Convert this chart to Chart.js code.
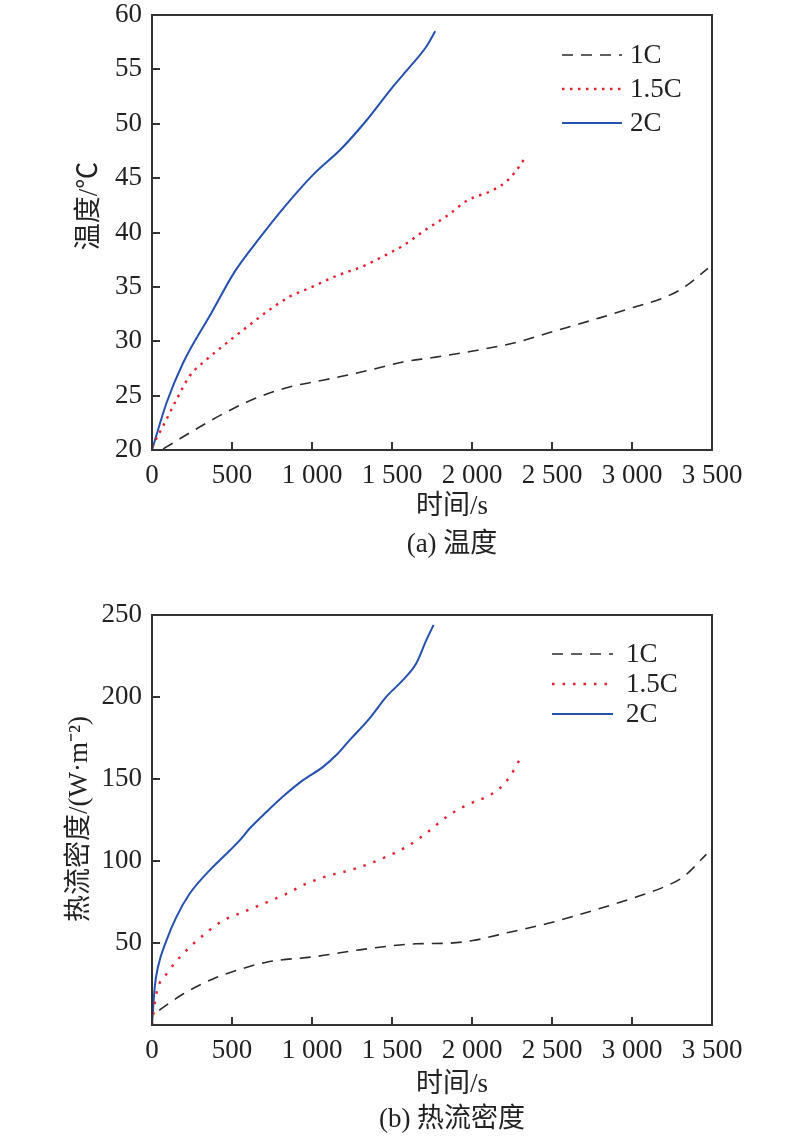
<!DOCTYPE html>
<html>
<head>
<meta charset="utf-8">
<script src="https://cdn.jsdelivr.net/npm/chart.js@4.4.1/dist/chart.umd.min.js"></script>
<style>
  body { margin: 0; background: #fff; }
  .box { position: absolute; left: 0; width: 800px; }
</style>
</head>
<body>
<div class="box" style="top:0;height:580px"><canvas id="tempChart"></canvas></div>
<div class="box" style="top:580px;height:559px"><canvas id="fluxChart"></canvas></div>
<script>
// (a) temperature, time in s
var temp1CTime = [70, 319, 506, 673, 860, 1027, 1194, 1402, 1569, 1756, 2006, 2277, 2485, 2798, 3006, 3215, 3319, 3475];
var temp1C     = [20.1, 22.3, 23.8, 24.9, 25.8, 26.3, 26.8, 27.5, 28.1, 28.5, 29.1, 29.9, 30.8, 32.15, 33.1, 34.1, 34.9, 36.7];
var temp15CTime = [0, 69, 152, 235, 340, 506, 610, 735, 860, 985, 1152, 1319, 1444, 1569, 1715, 1860, 1965, 2131, 2215, 2277, 2329];
var temp15C     = [20.3, 22.2, 24.6, 26.8, 28.3, 30.3, 31.5, 32.9, 34.1, 34.9, 36.0, 36.9, 37.8, 38.8, 40.3, 41.7, 42.9, 43.9, 44.7, 45.7, 46.8];
var temp2CTime = [0, 90, 194, 371, 517, 673, 819, 1006, 1183, 1340, 1505, 1610, 1715, 1770];
var temp2C     = [20.0, 24.3, 28.0, 32.6, 36.4, 39.5, 42.2, 45.3, 47.7, 50.3, 53.4, 55.2, 57.1, 58.5];

// (b) heat flux density
var flux1CTime = [45, 194, 381, 527, 715, 1027, 1340, 1652, 1860, 2006, 2235, 2465, 2798, 3006, 3215, 3319, 3465];
var flux1C     = [9, 18.9, 28.1, 33.2, 38.3, 41.8, 46.4, 49.5, 49.9, 51.5, 56.6, 61.7, 71.0, 77.4, 84.8, 90.2, 104];
var flux15CTime = [0, 27, 100, 194, 319, 444, 569, 694, 840, 965, 1110, 1235, 1360, 1485, 1590, 1715, 1840, 1965, 2090, 2173, 2235, 2308];
var flux15C     = [0, 19, 32.2, 43.4, 54.6, 63.7, 68.8, 73.9, 80.0, 86.2, 91.2, 94.3, 98.4, 103.5, 108.6, 117, 126.9, 134.0, 139.1, 144.2, 151.3, 163.5];
var flux2CTime = [0, 17, 37, 90, 152, 235, 360, 444, 548, 610, 715, 840, 944, 1069, 1152, 1235, 1360, 1465, 1569, 1652, 1715, 1760];
var flux2C     = [0, 23, 35.2, 51.5, 65.8, 80.0, 94.3, 102.4, 112.6, 119.8, 129.9, 141.1, 149.3, 157.4, 164.6, 173.7, 187.0, 200.2, 210.4, 220.6, 234.8, 244];

var seriesNames = ['1C', '1.5C', '2C'];
var timeTicks = [0, 500, 1000, 1500, 2000, 2500, 3000, 3500];

var SERIF = "'Liberation Serif', 'Noto Sans CJK SC', serif";

function pts(xs, ys) {
  return xs.map(function (x, i) { return { x: x, y: ys[i] }; });
}

function sets(times, values, dots) {
  return [
    { label: seriesNames[0], data: pts(times[0], values[0]), borderColor: '#2b2b2b', borderWidth: 1.6, borderDash: [11, 8] },
    { label: seriesNames[1], data: pts(times[1], values[1]), borderColor: '#e4202e', borderWidth: 2.4, borderDash: dots },
    { label: seriesNames[2], data: pts(times[2], values[2]), borderColor: '#2450b0', borderWidth: 2 }
  ];
}

// frame, legend and axis captions
var decor = {
  id: 'decor',
  afterDraw: function (chart, args, o) {
    var ctx = chart.ctx, a = chart.chartArea;
    ctx.save();
    ctx.strokeStyle = '#333';
    ctx.lineWidth = 2;
    ctx.strokeRect(a.left, a.top, a.right - a.left, a.bottom - a.top);

    ctx.font = '27px ' + SERIF;
    ctx.textBaseline = 'middle';
    chart.data.datasets.forEach(function (ds, i) {
      var y = o.legendY[i];
      ctx.beginPath();
      ctx.setLineDash(ds.borderDash || []);
      ctx.strokeStyle = ds.borderColor;
      ctx.lineWidth = ds.borderWidth;
      ctx.moveTo(o.legendX1, y);
      ctx.lineTo(o.legendX2, y);
      ctx.stroke();
      ctx.setLineDash([]);
      ctx.fillStyle = '#222';
      ctx.textAlign = 'left';
      ctx.fillText(ds.label, o.legendText, y + 1);
    });

    ctx.fillStyle = '#222';
    ctx.textAlign = 'center';
    ctx.font = '27px ' + SERIF;
    ctx.fillText(o.xTitle, o.xTitleX, o.xTitleY);
    ctx.fillText(o.caption, o.xTitleX, o.captionY);
    ctx.translate(o.yTitleX, o.yTitleY);
    ctx.rotate(-Math.PI / 2);
    ctx.fillText(o.yTitle, 0, 0);
    ctx.restore();
  }
};

function timeLabel(v) {
  return String(v).replace(/\B(?=(\d{3})+(?!\d))/g, ' ');
}

function makeChart(id, datasets, yMin, yMax, yStep, pad, xHeight, deco, hideZero) {
  return new Chart(id, {
    type: 'line',
    data: { datasets: datasets },
    options: {
      responsive: true,
      maintainAspectRatio: false,
      animation: false,
      layout: { padding: pad },
      elements: { point: { radius: 0 }, line: { cubicInterpolationMode: 'monotone' } },
      plugins: { legend: { display: false }, tooltip: { enabled: false }, decor: deco },
      scales: {
        x: {
          type: 'linear', min: 0, max: 3500,
          afterBuildTicks: function (s) { s.ticks = timeTicks.map(function (v) { return { value: v }; }); },
          afterFit: function (s) { s.height = xHeight; s.paddingLeft = 0; s.paddingRight = 0; },
          border: { display: false },
          grid: { drawOnChartArea: false, tickLength: -8, color: '#333', lineWidth: 2 },
          ticks: { autoSkip: false, maxRotation: 0, padding: 18, color: '#222', font: { family: SERIF, size: 27 }, callback: timeLabel }
        },
        y: {
          min: yMin, max: yMax,
          afterFit: function (s) { s.width = 152; s.paddingTop = 0; s.paddingBottom = 0; },
          border: { display: false },
          grid: { drawOnChartArea: false, tickLength: -8, color: '#333', lineWidth: 2 },
          ticks: {
            stepSize: yStep, padding: 18, color: '#222', font: { family: SERIF, size: 27 },
            callback: function (v) { return (hideZero && v === 0) ? '' : v; }
          }
        }
      }
    },
    plugins: [decor]
  });
}

makeChart('tempChart',
  sets([temp1CTime, temp15CTime, temp2CTime], [temp1C, temp15C, temp2C], [2.5, 5.5]),
  20, 60, 5, { top: 15, right: 88, left: 0, bottom: 0 }, 130,
  { legendY: [55, 89, 123], legendX1: 562, legendX2: 622, legendText: 630,
    xTitle: '时间/s', xTitleX: 452, xTitleY: 507, caption: '(a) 温度', captionY: 545,
    yTitle: '温度/℃', yTitleX: 90, yTitleY: 206 },
  false);

makeChart('fluxChart',
  sets([flux1CTime, flux15CTime, flux2CTime], [flux1C, flux15C, flux2C], [2.5, 8]),
  0, 250, 50, { top: 35, right: 88, left: 0, bottom: 0 }, 114,
  { legendY: [74, 104, 134], legendX1: 552, legendX2: 613, legendText: 626,
    xTitle: '时间/s', xTitleX: 452, xTitleY: 505, caption: '(b) 热流密度', captionY: 540,
    yTitle: '热流密度/(W·m⁻²)', yTitleX: 80, yTitleY: 239 },
  true);
</script>
</body>
</html>
